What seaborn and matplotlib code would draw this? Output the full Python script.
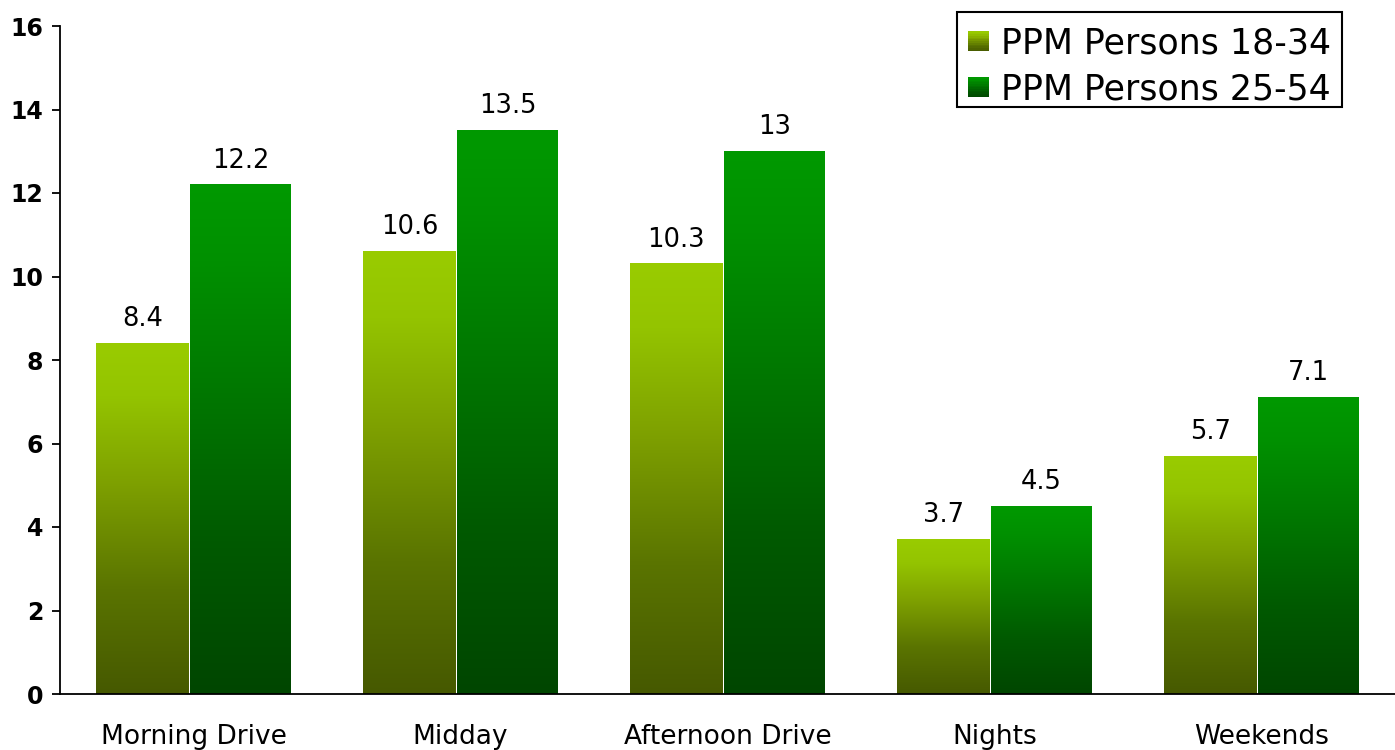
import numpy as np
import pandas as pd
import matplotlib
matplotlib.use("Agg")
import matplotlib.pyplot as plt
import seaborn as sns
from matplotlib.colors import LinearSegmentedColormap
from matplotlib.legend_handler import HandlerBase
from matplotlib.patches import Rectangle

categories = ["Morning Drive", "Midday", "Afternoon Drive", "Nights", "Weekends"]
series_names = ["PPM Persons 18-34", "PPM Persons 25-54"]
values_18_34 = [8.4, 10.6, 10.3, 3.7, 5.7]
values_25_54 = [12.2, 13.5, 13.0, 4.5, 7.1]
label_18_34 = ["8.4", "10.6", "10.3", "3.7", "5.7"]
label_25_54 = ["12.2", "13.5", "13", "4.5", "7.1"]
yticks = [0, 2, 4, 6, 8, 10, 12, 14, 16]

light_stops = [(0.0, "#465900"), (0.3, "#5A7400"), (0.6, "#7EA000"), (0.85, "#94C400"), (1.0, "#99CC00")]
dark_stops = [(0.0, "#004600"), (0.3, "#005A00"), (0.6, "#007800"), (0.85, "#009000"), (1.0, "#009900")]
cmap_light = LinearSegmentedColormap.from_list("light", light_stops)
cmap_dark = LinearSegmentedColormap.from_list("dark", dark_stops)

sns.set_style("white")
plt.rcParams["font.family"] = ["DejaVu Sans"]
plt.rcParams["text.color"] = "black"
plt.rcParams["xtick.color"] = "black"
plt.rcParams["ytick.color"] = "black"

df = pd.DataFrame({
    "category": categories * 2,
    "value": values_18_34 + values_25_54,
    "series": [series_names[0]] * 5 + [series_names[1]] * 5,
})

W, H = 1395, 750
fig = plt.figure(figsize=(W / 100, H / 100), dpi=100)
ax = fig.add_axes([60 / W, 1 - 694 / H, 1 - 60 / W, (694 - 26) / H])

sns.barplot(data=df, x="category", y="value", hue="series", order=categories,
            hue_order=series_names, palette=["#99CC00", "#009900"], width=0.73,
            legend=False, ax=ax, saturation=1)

grad = np.linspace(0, 1, 256).reshape(-1, 1)
labels_all = [label_18_34, label_25_54]
for si, cont in enumerate(ax.containers):
    cmap = cmap_light if si == 0 else cmap_dark
    for bi, patch in enumerate(cont.patches):
        x, w, h = patch.get_x(), patch.get_width(), patch.get_height()
        if si == 0:
            w = w - 0.018
        else:
            x = x - 0.012
            w = w + 0.012
        patch.set_x(x)
        patch.set_width(w)
        patch.set_facecolor("none")
        patch.set_edgecolor("none")
        ax.imshow(grad, extent=[x, x + w, 0, h], origin="lower", cmap=cmap,
                  aspect="auto", interpolation="bicubic", zorder=2)
        ax.annotate(labels_all[si][bi], (x + w / 2, h), xytext=(0, 8),
                    textcoords="offset points", ha="center", va="bottom",
                    fontsize=18.5, color="black")

ax.set_xlim(-0.5, 4.5)
ax.set_ylim(0, 16)
ax.set_yticks(yticks)
ax.set_yticklabels([str(t) for t in yticks], fontsize=17, fontweight="bold")
ax.set_xlabel("")
ax.set_ylabel("")
ax.set_xticks(range(len(categories)))
ax.set_xticklabels(categories, fontsize=19)
ax.set_xticks(np.arange(-0.5, 4.5, 1.0), minor=True)
ax.tick_params(axis="x", which="major", length=0, pad=21.5)
ax.tick_params(axis="x", which="minor", length=8, width=1.3, direction="out", color="black")
ax.tick_params(axis="y", length=6, width=1.3, direction="out", color="black", pad=6, left=True)

for s in ["top", "right"]:
    ax.spines[s].set_visible(False)
for s in ["left", "bottom"]:
    ax.spines[s].set_color("black")
    ax.spines[s].set_linewidth(1.3)


class GradHandler(HandlerBase):
    def __init__(self, cmap):
        super().__init__()
        self.cmap = cmap

    def create_artists(self, legend, orig_handle, xdescent, ydescent, width, height, fontsize, trans):
        n = 12
        size = min(width, height)
        x0 = -xdescent + (width - size) / 2
        y0 = -ydescent + (height - size) / 2
        arts = []
        for i in range(n):
            c = self.cmap((i + 0.5) / n)
            arts.append(Rectangle((x0, y0 + size * i / n), size, size / n + 0.3,
                                  facecolor=c, edgecolor="none", transform=trans))
        return arts


h1 = Rectangle((0, 0), 1, 1)
h2 = Rectangle((0, 0), 1, 1)
leg = ax.legend([h1, h2], series_names, handler_map={h1: GradHandler(cmap_light), h2: GradHandler(cmap_dark)},
                loc="upper right", bbox_to_anchor=(1342 / W, 1 - 16 / H),
                bbox_transform=fig.transFigure, borderaxespad=0, fontsize=25,
                frameon=False, handlelength=0.58, handleheight=0.58,
                handletextpad=0.37, labelspacing=0.35, borderpad=0.3)
for t in leg.get_texts():
    t.set_color("black")

frame = Rectangle((957 / W, 1 - 107 / H), (1342 - 957) / W, (107 - 12) / H,
                  transform=fig.transFigure, facecolor="none", edgecolor="black",
                  linewidth=1.5, zorder=5)
fig.patches.append(frame)

fig.savefig("out.png", dpi=100)
